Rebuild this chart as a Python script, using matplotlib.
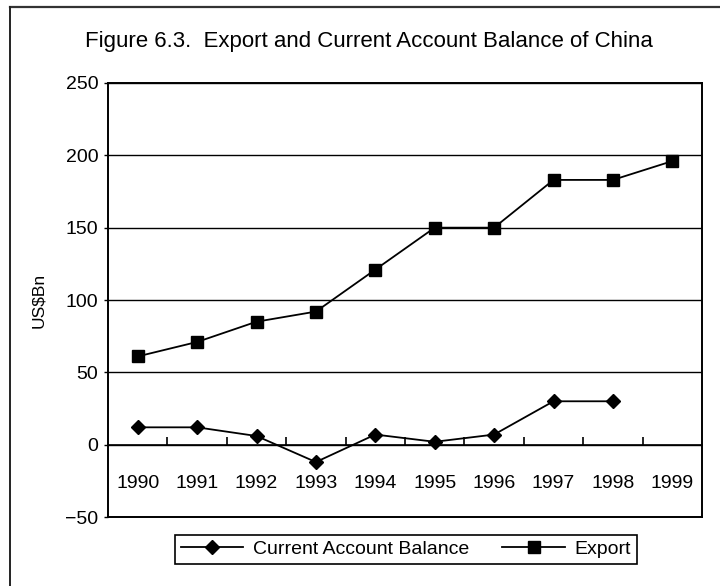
import numpy as np
import matplotlib.pyplot as plt
from matplotlib.lines import Line2D

plt.rcParams['font.family'] = ['Liberation Sans', 'DejaVu Sans']

years = ['1990', '1991', '1992', '1993', '1994', '1995', '1996', '1997', '1998', '1999']
export = [61, 71, 85, 92, 121, 150, 150, 183, 183, 196]
current_account = [12, 12, 6, -12, 7, 2, 7, 30, 30]

x = np.arange(len(years))

fig = plt.figure(figsize=(7.2, 5.86), dpi=100)
ax = fig.add_axes([0.15, 0.1177, 0.825, 0.7407])

# outer frame of the figure (cut at right/bottom like the scan)
fig.add_artist(Line2D([10/720, 1.0], [1 - 7/586, 1 - 7/586], color='#333333', lw=1.6))
fig.add_artist(Line2D([10/720, 10/720], [0.0, 1 - 7/586], color='#222222', lw=1.4))

ax.plot(x[:len(current_account)], current_account, color='black', lw=1.3,
        marker='D', markersize=7.5, label='Current Account Balance')
ax.plot(x, export, color='black', lw=1.3,
        marker='s', markersize=8, label='Export')

ax.set_xlim(-0.5, len(years) - 0.5)
ax.set_ylim(-50, 250)
ax.set_yticks(np.arange(-50, 251, 50))
ax.yaxis.grid(True, color='black', lw=1.0)
ax.set_axisbelow(True)

# x axis sits on zero line
ax.spines['bottom'].set_position(('data', 0))
ax.axhline(-50, color='black', lw=1.4, clip_on=False)
for s in ['left', 'right', 'top']:
    ax.spines[s].set_linewidth(1.4)
ax.spines['bottom'].set_linewidth(1.2)

ax.set_xticks(x)
ax.set_xticklabels(years)
ax.set_xticks(np.arange(0.5, len(years) - 1, 1.0), minor=True)
ax.tick_params(axis='x', which='major', length=0, pad=22, labelsize=14)
ax.tick_params(axis='x', which='minor', direction='in', length=6, width=1.2)
ax.tick_params(axis='y', length=3, width=1.0, labelsize=14, pad=4)

ax.set_ylabel('US$Bn', fontsize=12.5, labelpad=14)

fig.text(0.5125, 0.92, 'Figure 6.3.  Export and Current Account Balance of China',
         ha='center', va='baseline', fontsize=16)

leg = fig.legend(loc='center', bbox_to_anchor=(0.564, 0.0623), ncol=2,
                 fancybox=False, edgecolor='black', framealpha=1,
                 fontsize=14, handlelength=3.2, columnspacing=1.7,
                 borderpad=0.3, handletextpad=0.5)
leg.get_frame().set_linewidth(1.2)

fig.savefig('out.png', dpi=100)
